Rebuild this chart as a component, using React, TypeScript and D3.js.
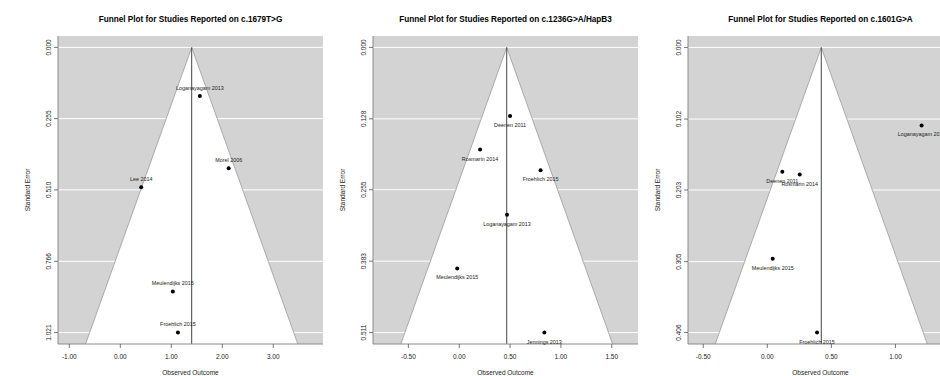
import React from "react";
import * as d3 from "d3";

// panel 1: c.1679T>G
const studies1 = ["Loganayagam 2013", "Morel 2006", "Lee 2014", "Meulendijks 2015", "Froehlich 2015"];
const effects1 = [1.56, 2.125, 0.41, 1.03, 1.13];
const se1 = [0.174, 0.433, 0.501, 0.874, 1.021];
const yTicks1 = [0, 0.255, 0.51, 0.766, 1.021];
const xTicks1 = [-1, 0, 1, 2, 3];

// panel 2: c.1236G>A/HapB3
const studies2 = ["Deenen 2011", "Rosmarin 2014", "Froehlich 2015", "Loganayagam 2013", "Meulendijks 2015", "Jennings 2013"];
const effects2 = [0.5, 0.205, 0.8, 0.47, -0.02, 0.837];
const se2 = [0.123, 0.183, 0.22, 0.3, 0.396, 0.511];
const yTicks2 = [0, 0.128, 0.255, 0.383, 0.511];
const xTicks2 = [-0.5, 0, 0.5, 1, 1.5];

// panel 3: c.1601G>A (the picture is cut off on the right)
const studies3 = ["Loganayagam 2013", "Deenen 2011", "Rosmarin 2014", "Meulendijks 2015", "Froehlich 2015"];
const effects3 = [1.204, 0.117, 0.253, 0.042, 0.388];
const se3 = [0.111, 0.177, 0.181, 0.301, 0.406];
const yTicks3 = [0, 0.102, 0.203, 0.305, 0.406];
const xTicks3 = [-0.5, 0, 0.5, 1];

const panels = [
  { title: "Funnel Plot for Studies Reported on c.1679T>G", studies: studies1, effects: effects1, se: se1, yTicks: yTicks1, xTicks: xTicks1, estimate: 1.4, xlim: [-1.222, 3.975], labelPos: "above" },
  { title: "Funnel Plot for Studies Reported on c.1236G>A/HapB3", studies: studies2, effects: effects2, se: se2, yTicks: yTicks2, xTicks: xTicks2, estimate: 0.467, xlim: [-0.848, 1.758], labelPos: "below" },
  { title: "Funnel Plot for Studies Reported on c.1601G>A", studies: studies3, effects: effects3, se: se3, yTicks: yTicks3, xTicks: xTicks3, estimate: 0.421, xlim: [-0.619, 1.449], labelPos: "below" },
];

const W = 940, H = 376;
const plotW = 265, top = 36, bottom = 344;
const font = "'Liberation Sans', Arial, Helvetica, sans-serif";

const Panel = ({ p, i }: any) => {
  const left = 58 + i * 315;
  const right = left + plotW;
  const seMax = p.yTicks[p.yTicks.length - 1];
  const y = d3.scaleLinear().domain([-0.04 * seMax, seMax * 1.04]).range([top, bottom]);
  const x = d3.scaleLinear().domain(p.xlim).range([left, right]);
  const seBot = seMax * 1.04;
  const funnel = [
    [p.estimate - 1.96 * seBot, seBot],
    [p.estimate, 0],
    [p.estimate + 1.96 * seBot, seBot],
  ];
  const line = d3.line<number[]>().x((d) => x(d[0])).y((d) => y(d[1]));
  const clipId = `clip${i}`;
  const fmtX = (v: number) => v.toFixed(2);

  return (
    <g>
      <defs>
        <clipPath id={clipId}>
          <rect x={left} y={top} width={plotW} height={bottom - top} />
        </clipPath>
      </defs>
      <text x={(left + right) / 2} y={22.3} textAnchor="middle" fontFamily={font} fontWeight="bold" fontSize={8.2} fill="#000">
        {p.title}
      </text>
      <rect x={left} y={top} width={plotW} height={bottom - top} fill="#d3d3d3" />
      <g clipPath={`url(#${clipId})`}>
        {p.yTicks.map((t: number, k: number) => (
          <line key={k} x1={left} x2={right} y1={y(t)} y2={y(t)} stroke="#ffffff" strokeWidth={1} />
        ))}
        <path d={line(funnel as any) + "Z"} fill="#ffffff" stroke="none" />
        <path d={line(funnel as any) || ""} fill="none" stroke="#9a9a9a" strokeWidth={0.8} />
        <line x1={x(p.estimate)} x2={x(p.estimate)} y1={y(0)} y2={bottom} stroke="#444" strokeWidth={1} />
      </g>
      {/* axes */}
      <line x1={left} x2={left} y1={top} y2={bottom} stroke="#8a8a8a" strokeWidth={1} />
      <line x1={left} x2={right} y1={bottom} y2={bottom} stroke="#8a8a8a" strokeWidth={1} />
      {p.yTicks.map((t: number, k: number) => (
        <g key={k}>
          <line x1={left - 4} x2={left} y1={y(t)} y2={y(t)} stroke="#555" strokeWidth={0.8} />
          <text transform={`translate(${left - 7.5},${y(t)}) rotate(-90)`} textAnchor="middle" fontFamily={font} fontSize={6.5} fill="#222">
            {t.toFixed(3)}
          </text>
        </g>
      ))}
      {p.xTicks.map((t: number, k: number) => (
        <g key={k}>
          <line x1={x(t)} x2={x(t)} y1={bottom} y2={bottom + 4} stroke="#555" strokeWidth={0.8} />
          <text x={x(t)} y={359} textAnchor="middle" fontFamily={font} fontSize={6.5} fill="#222">
            {fmtX(t)}
          </text>
        </g>
      ))}
      <text x={(left + right) / 2} y={375} textAnchor="middle" fontFamily={font} fontSize={6.5} fill="#222">
        Observed Outcome
      </text>
      <text transform={`translate(${left - 28.5},${(top + bottom) / 2}) rotate(-90)`} textAnchor="middle" fontFamily={font} fontSize={6.5} fill="#222">
        Standard Error
      </text>
      {/* studies */}
      {p.studies.map((s: string, k: number) => (
        <g key={s}>
          <circle cx={x(p.effects[k])} cy={y(p.se[k])} r={2} fill="#000" />
          <text
            x={x(p.effects[k])}
            y={y(p.se[k]) + (p.labelPos === "above" ? -6.3 : 11)}
            textAnchor="middle"
            fontFamily={font}
            fontSize={5.4}
            fill="#222"
          >
            {s}
          </text>
        </g>
      ))}
    </g>
  );
};

export default function App() {
  return (
    <svg width={W} height={H} style={{ position: "absolute", left: 0, top: 0, background: "#fff" }}>
      {panels.map((p, i) => (
        <Panel key={i} p={p} i={i} />
      ))}
    </svg>
  );
}
